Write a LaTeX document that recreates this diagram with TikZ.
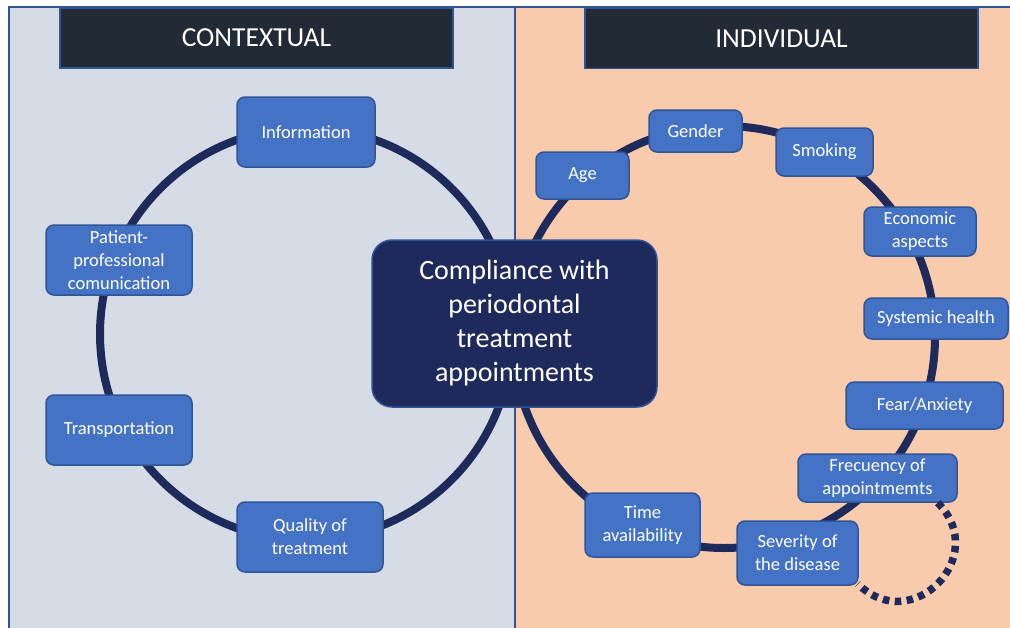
\documentclass[tikz,border=0pt]{standalone}
\usepackage{fontspec}
\setmainfont{Carlito}
\definecolor{leftbg}{HTML}{D6DCE5}
\definecolor{rightbg}{HTML}{F8CBAD}
\definecolor{edgeblue}{HTML}{2F5597}
\definecolor{boxblue}{HTML}{4472C4}
\definecolor{headdark}{HTML}{222A35}
\definecolor{ringnavy}{HTML}{1F2A5C}
\begin{document}
\begin{tikzpicture}[x=1pt,y=1pt,
    header/.style={rectangle,draw=edgeblue,line width=1.5pt,fill=headdark,text=white,
        minimum width=393,minimum height=60,font=\fontsize{27.5}{30}\selectfont},
    factor/.style={rectangle,rounded corners=8pt,draw=edgeblue,line width=1.5pt,fill=boxblue,
        text=white,align=center,inner sep=1pt,font=\fontsize{18.5}{23}\selectfont},
    core/.style={rectangle,rounded corners=20pt,draw=edgeblue,line width=1.5pt,fill=ringnavy,
        text=white,align=center,font=\fontsize{28}{34}\selectfont},
    ring/.style={draw=ringnavy,line width=8pt},
    dotring/.style={draw=ringnavy,line width=7.5pt,dash pattern=on 6.5pt off 5.5pt}]
            \useasboundingbox (0,0) rectangle (1010,-627);

            % panels
            \draw [fill=leftbg,draw=edgeblue,line width=1.5pt] (9,-7) rectangle (515,-640);
            \draw [fill=rightbg,draw=edgeblue,line width=1.5pt] (515,-7) rectangle (1012,-640);

            \draw (256.5,-38) node (ctx) [header] {CONTEXTUAL};
            \draw (781.5,-38.5) node (ind) [header] {INDIVIDUAL};

            % rings
            \coordinate (lc) at (306,-334);
            \coordinate (rc) at (724,-337);
            \draw [ring] (lc) circle (206);
            \draw [ring] (rc) circle (211);

            % contextual factors
            \draw (306,-132) node (info) [factor,minimum width=138,minimum height=70] {Information};
            \draw (119,-260) node (patient) [factor,minimum width=146,minimum height=70] {Patient-\\professional\\comunication};
            \draw (119,-430) node (transp) [factor,minimum width=146,minimum height=70] {Transportation};
            \draw (310,-537) node (quality) [factor,minimum width=146,minimum height=70] {Quality of\\treatment};

            % individual factors
            \draw (582.5,-175.5) node (age) [factor,minimum width=93,minimum height=47] {Age};
            \draw (695.5,-131) node (gender) [factor,minimum width=93,minimum height=42] {Gender};
            \draw (824.5,-152) node (smoking) [factor,minimum width=97,minimum height=48] {Smoking};
            \draw (920,-231.5) node (econ) [factor,minimum width=112,minimum height=49] {Economic\\aspects};
            \draw (936,-318.5) node (systemic) [factor,minimum width=144,minimum height=41] {Systemic health};
            \draw (924.5,-405.5) node (fear) [factor,minimum width=157,minimum height=47] {Fear/Anxiety};
            \draw (877.5,-478) node (freq) [factor,minimum width=159,minimum height=48] {Frecuency of\\appointmemts};
            \draw (642.5,-525) node (time) [factor,minimum width=115,minimum height=64] {Time\\availability};
            \draw (797.5,-553) node (severity) [factor,minimum width=121,minimum height=64] {Severity of\\the disease};

            \draw [dotring] ([xshift=-20pt]freq.south east) to [out=-45,in=-45,looseness=1.7] ([xshift=-1pt,yshift=2pt]severity.south east);

            \draw (514.5,-323.5) node (comp) [core,minimum width=285,minimum height=167] {Compliance with\\periodontal\\treatment\\appointments};
        \end{tikzpicture}
\end{document}
